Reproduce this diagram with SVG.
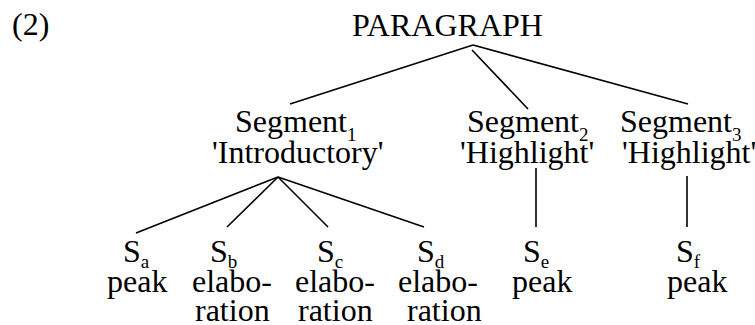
<svg xmlns="http://www.w3.org/2000/svg" width="755" height="325" viewBox="0 0 755 325">
<style>
.sub{font-size:19px}
.conn line{stroke:#000;stroke-width:1.6;fill:none}
</style>
<rect width="755" height="325" fill="#fff"/>
<g font-family="Liberation Serif, serif" font-size="32" fill="#000">
<text x="12" y="35">(2)</text>
<g id="connectors" class="conn">
<line x1="473" y1="45" x2="290" y2="104"/>
<line x1="472" y1="50" x2="528" y2="109"/>
<line x1="473" y1="45" x2="688" y2="104"/>
<line x1="278" y1="177" x2="136" y2="233"/>
<line x1="278" y1="177" x2="227" y2="227"/>
<line x1="278" y1="177" x2="328" y2="227"/>
<line x1="278" y1="177" x2="424" y2="227"/>
<line x1="536" y1="168" x2="536" y2="227"/>
<line x1="687" y1="176" x2="687" y2="227"/>
</g>
<g id="paragraph"><text x="352" y="36">PARAGRAPH</text></g>
<g id="segment1">
<text x="235" y="132">Segment<tspan class="sub" dy="9">1</tspan></text>
<text x="212" y="163">'Introductory'</text>
</g>
<g id="segment2">
<text x="467" y="132">Segment<tspan class="sub" dy="9">2</tspan></text>
<text x="460" y="163">'Highlight'</text>
</g>
<g id="segment3">
<text x="620" y="132">Segment<tspan class="sub" dy="9">3</tspan></text>
<text x="622" y="163">'Highlight'</text>
</g>
<g id="sa">
<text x="123" y="262">S<tspan class="sub" dy="6">a</tspan></text>
<text x="107" y="292">peak</text>
</g>
<g id="sb">
<text x="210" y="262">S<tspan class="sub" dy="6">b</tspan></text>
<text x="192" y="292">elabo-</text>
<text x="195" y="321">ration</text>
</g>
<g id="sc">
<text x="317" y="262">S<tspan class="sub" dy="6">c</tspan></text>
<text x="295" y="292">elabo-</text>
<text x="298" y="321">ration</text>
</g>
<g id="sd">
<text x="417" y="262">S<tspan class="sub" dy="6">d</tspan></text>
<text x="398" y="292">elabo-</text>
<text x="407" y="321">ration</text>
</g>
<g id="se">
<text x="523" y="262">S<tspan class="sub" dy="6">e</tspan></text>
<text x="512" y="292">peak</text>
</g>
<g id="sf">
<text x="676" y="262">S<tspan class="sub" dy="6">f</tspan></text>
<text x="667" y="292">peak</text>
</g>
</g>
</svg>
